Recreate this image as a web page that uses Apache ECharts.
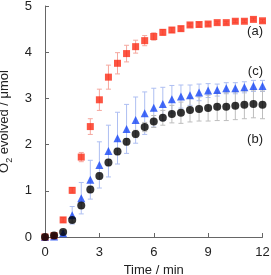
<!DOCTYPE html>
<html>
<head>
<meta charset="utf-8">
<script src="https://cdn.jsdelivr.net/npm/echarts@6/dist/echarts.min.js"></script>
<style>
html,body{margin:0;padding:0;background:#fff;}
#c{width:271px;height:275px;}
</style>
</head>
<body>
<div id="c"></div>
<script>
const times = [0,0.5,1,1.5,2,2.5,3,3.5,4,4.5,5,5.5,6,6.5,7,7.5,8,8.5,9,9.5,10,10.5,11,11.5,12];
const seriesA = [0,0.03,0.37,1.01,1.73,2.39,2.97,3.46,3.76,3.97,4.12,4.25,4.34,4.43,4.48,4.51,4.59,4.60,4.61,4.64,4.64,4.67,4.67,4.71,4.68];
const errA = [0,0.02,0.05,0.06,0.1,0.17,0.23,0.26,0.23,0.18,0.14,0.11,0.08,0.06,0.05,0.05,0.04,0.04,0.04,0.03,0.03,0.03,0.03,0.03,0.03];
const seriesB = [0,0.03,0.11,0.37,0.68,1.03,1.32,1.61,1.85,2.06,2.23,2.38,2.50,2.58,2.66,2.69,2.75,2.77,2.79,2.82,2.82,2.84,2.86,2.88,2.86];
const errB = [0,0.01,0.03,0.05,0.06,0.07,0.07,0.07,0.07,0.07,0.08,0.1,0.13,0.16,0.19,0.23,0.26,0.26,0.28,0.3,0.3,0.3,0.3,0.3,0.3];
const seriesC = [0,0.01,0.08,0.47,0.84,1.24,1.56,1.86,2.14,2.34,2.53,2.68,2.80,2.88,2.98,3.04,3.07,3.13,3.17,3.18,3.22,3.22,3.24,3.27,3.27];
const errC = [0,0.02,0.05,0.19,0.34,0.42,0.5,0.56,0.56,0.53,0.5,0.46,0.42,0.36,0.3,0.25,0.22,0.18,0.15,0.13,0.12,0.12,0.12,0.12,0.12];
const xTicks = [0,3,6,9,12];
const yTicks = [0,1,2,3,4,5];
const curveLabels = ['(a)','(b)','(c)'];

const FONT = '"Liberation Sans", Arial, sans-serif';

function pts(vals){ return times.map((t,i)=>[t, vals[i]]); }
function errData(vals, errs){ return times.map((t,i)=>[t, vals[i], errs[i]]); }

function errSeries(vals, errs, color){
  return {
    type:'custom',
    data: errData(vals, errs),
    silent:true,
    z:1,
    renderItem: function(params, api){
      const x = api.value(0), y = api.value(1), e = api.value(2);
      if (!e) return null;
      const top = api.coord([x, y+e]);
      const bot = api.coord([x, y-e]);
      const hw = 2.5;
      const st = {stroke: color, lineWidth: 1};
      return {type:'group', children:[
        {type:'line', shape:{x1:top[0], y1:top[1], x2:bot[0], y2:bot[1]}, style:st},
        {type:'line', shape:{x1:top[0]-hw, y1:top[1], x2:top[0]+hw, y2:top[1]}, style:st},
        {type:'line', shape:{x1:bot[0]-hw, y1:bot[1], x2:bot[0]+hw, y2:bot[1]}, style:st}
      ]};
    }
  };
}

const chart = echarts.init(document.getElementById('c'), null, {renderer:'canvas'});
chart.setOption({
  animation:false,
  backgroundColor:'#fff',
  grid:{left:45, right:8.5, top:6, bottom:38, containLabel:false, outerBoundsMode:'none'},
  xAxis:{
    type:'value', min:0, max:12, interval:3,
    name:'Time / min', nameLocation:'middle', nameGap:23,
    nameTextStyle:{fontFamily:FONT, fontSize:13, color:'#222'},
    axisLine:{show:true, onZero:false, lineStyle:{color:'#666', width:1}},
    axisTick:{show:true, inside:true, length:4, lineStyle:{color:'#666'}},
    axisLabel:{margin:9, fontFamily:FONT, fontSize:13, color:'#222',
      formatter: v => xTicks.includes(v) ? String(v) : ''},
    splitLine:{show:false}
  },
  yAxis:{
    type:'value', min:0, max:5, interval:1,
    name:'{n|O}{s|2}{n| evolved / μmol}', nameLocation:'middle', nameGap:31, nameRotate:90,
    nameTextStyle:{fontFamily:FONT, fontSize:13, color:'#222',
      rich:{
        n:{fontFamily:FONT, fontSize:13, color:'#222', lineHeight:18, verticalAlign:'middle'},
        s:{fontFamily:FONT, fontSize:9, color:'#222', lineHeight:18, verticalAlign:'bottom'}
      }},
    axisLine:{show:true, onZero:false, lineStyle:{color:'#666', width:1}},
    axisTick:{show:true, inside:true, length:4, lineStyle:{color:'#666'}},
    axisLabel:{margin:13, fontFamily:FONT, fontSize:13, color:'#222',
      formatter: v => yTicks.includes(v) ? String(v) : ''},
    splitLine:{show:false}
  },
  series:[
    errSeries(seriesC, errC, '#aebff2'),
    errSeries(seriesA, errA, '#f5a79e'),
    errSeries(seriesB, errB, '#bdbdbd'),
    {type:'scatter', data:pts(seriesC), symbol:'triangle', symbolSize:8, itemStyle:{color:'#1646f5'}, z:3},
    {type:'scatter', data:pts(seriesA), symbol:'rect', symbolSize:7, itemStyle:{color:'#fb2a14'}, z:4},
    {type:'scatter', data:pts(seriesB), symbol:'circle', symbolSize:8, itemStyle:{color:'#000'}, z:5}
  ],
  graphic:[
    {type:'text', right:8, top:25, style:{text:curveLabels[0], font:'13px '+FONT, fill:'#222'}},
    {type:'text', right:8, top:133, style:{text:curveLabels[1], font:'13px '+FONT, fill:'#222'}},
    {type:'text', right:8, top:65, style:{text:curveLabels[2], font:'13px '+FONT, fill:'#222'}}
  ]
});
</script>
</body>
</html>
